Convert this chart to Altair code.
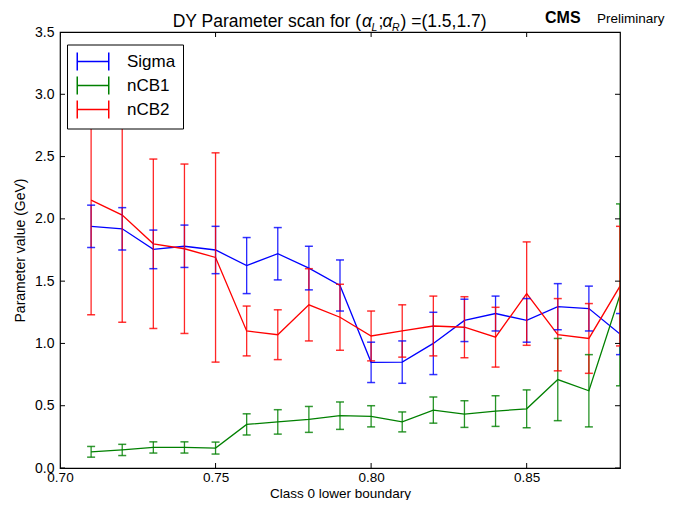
import altair as alt
import pandas as pd

# ---------------- data ----------------
x_vals = [0.71, 0.72, 0.73, 0.74, 0.75, 0.76, 0.77, 0.78, 0.79,
          0.80, 0.81, 0.82, 0.83, 0.84, 0.85, 0.86, 0.87, 0.88]

sigma = [1.94, 1.92, 1.755, 1.78, 1.75, 1.625, 1.72, 1.605, 1.465,
         0.848, 0.85, 1.00, 1.185, 1.24, 1.185, 1.295, 1.28, 1.075]
sigma_err = [0.17, 0.17, 0.155, 0.17, 0.19, 0.225, 0.21, 0.175, 0.205,
             0.162, 0.17, 0.25, 0.17, 0.14, 0.175, 0.185, 0.18, 0.165]

ncb1 = [0.13, 0.145, 0.165, 0.165, 0.16, 0.35, 0.37, 0.39, 0.42,
        0.415, 0.37, 0.465, 0.433, 0.457, 0.475, 0.71, 0.62, 1.39]
ncb1_err = [0.043, 0.045, 0.045, 0.045, 0.048, 0.085, 0.098, 0.104, 0.11,
            0.085, 0.08, 0.105, 0.107, 0.123, 0.152, 0.33, 0.29, 0.73]

ncb2 = [2.15, 2.03, 1.80, 1.76, 1.69, 1.10, 1.07, 1.31, 1.21,
        1.06, 1.10, 1.14, 1.13, 1.05, 1.40, 1.07, 1.04, 1.46]
ncb2_err = [0.92, 0.86, 0.68, 0.68, 0.84, 0.20, 0.20, 0.29, 0.265,
            0.20, 0.21, 0.24, 0.245, 0.24, 0.415, 0.29, 0.28, 0.48]

series_names = ["Sigma", "nCB1", "nCB2"]
series_colors = ["#0000ff", "#008000", "#ff0000"]

x_ticks = [0.70, 0.75, 0.80, 0.85]
y_ticks = [0.0, 0.5, 1.0, 1.5, 2.0, 2.5, 3.0, 3.5]
x_domain = [0.70, 0.88]
y_domain = [0.0, 3.5]

title_main = "DY Parameter scan for ("
title_alpha = "\u03b1"
title_sub_l = "L"
title_sep = ";"
title_sub_r = "R"
title_tail = ") =(1.5,1.7)"
cms_text = "CMS"
prelim_text = "Preliminary"
x_title = "Class 0 lower boundary"
y_title = "Parameter value (GeV)"

# ---------------- table ----------------
rows = []
for name, vals, errs in zip(series_names, [sigma, ncb1, ncb2],
                            [sigma_err, ncb1_err, ncb2_err]):
    for xv, v, e in zip(x_vals, vals, errs):
        rows.append({"series": name, "x": xv, "val": v,
                     "lo": v - e, "hi": v + e})
df = pd.DataFrame(rows)

W, H = 560, 436
FONT = "Liberation Sans"

xscale = alt.Scale(domain=x_domain, nice=False, zero=False)
yscale = alt.Scale(domain=y_domain, nice=False, zero=False)

xaxis = alt.Axis(values=x_ticks, format=".2f", title=x_title,
                 labelFlush=False, labelPadding=2, labelFontSize=13.5,
                 titleY=29, titleBaseline="alphabetic", titleFontSize=13.5)
yaxis = alt.Axis(values=y_ticks, format=".1f", title=y_title,
                 labelFlush=False, labelPadding=6, titleX=-40,
                 titleBaseline="middle")

# errorbar-like legend glyph, shifted right inside its symbol box
PATH = "M-0.75,0L2.75,0M-0.75,-1L-0.75,1M2.75,-1L2.75,1"
legend = alt.Legend(title=None, orient="none", legendX=7, legendY=12.5,
                    padding=7, fillColor="white", strokeColor="black",
                    cornerRadius=0, symbolType=PATH, symbolSize=324,
                    symbolStrokeWidth=1.5, symbolFillColor="transparent",
                    symbolOpacity=1, labelFont=FONT, labelFontSize=17,
                    labelColor="black", labelOffset=33, rowPadding=0)

color = alt.Color("series:N", sort=series_names,
                  scale=alt.Scale(domain=series_names, range=series_colors),
                  legend=legend)

base = alt.Chart(df)

lines = base.mark_line(strokeWidth=1.3, clip=True).encode(
    x=alt.X("x:Q", scale=xscale, axis=xaxis),
    y=alt.Y("val:Q", scale=yscale, axis=yaxis),
    color=color,
)

bars = base.mark_rule(strokeWidth=1.3, opacity=0.85, clip=True).encode(
    x=alt.X("x:Q", scale=xscale, axis=xaxis),
    y=alt.Y("lo:Q", scale=yscale, axis=yaxis),
    y2="hi:Q",
    color=color,
)

caps_lo = base.mark_tick(orient="horizontal", size=8, thickness=1.5,
                         opacity=0.8, clip=True).encode(
    x=alt.X("x:Q", scale=xscale, axis=xaxis),
    y=alt.Y("lo:Q", scale=yscale, axis=yaxis),
    color=color,
)
caps_hi = base.mark_tick(orient="horizontal", size=8, thickness=1.5,
                         opacity=0.8, clip=True).encode(
    x=alt.X("x:Q", scale=xscale, axis=xaxis),
    y=alt.Y("hi:Q", scale=yscale, axis=yaxis),
    color=color,
)

# inward ticks on all four sides (matplotlib classic style)
ydf = pd.DataFrame({"v": y_ticks})
xdf = pd.DataFrame({"v": x_ticks})
tick_kw = dict(size=10, thickness=1, color="black", opacity=1, clip=True)
yt_left = alt.Chart(ydf).mark_tick(orient="horizontal", **tick_kw).encode(
    y=alt.Y("v:Q", scale=yscale, axis=yaxis), x=alt.value(0))
yt_right = alt.Chart(ydf).mark_tick(orient="horizontal", **tick_kw).encode(
    y=alt.Y("v:Q", scale=yscale, axis=yaxis), x=alt.value(W))
xt_bottom = alt.Chart(xdf).mark_tick(orient="vertical", **tick_kw).encode(
    x=alt.X("v:Q", scale=xscale, axis=xaxis), y=alt.value(H))
xt_top = alt.Chart(xdf).mark_tick(orient="vertical", **tick_kw).encode(
    x=alt.X("v:Q", scale=xscale, axis=xaxis), y=alt.value(0))


def label(text, xpos, ypos, size, align="left", weight="normal",
          style="normal"):
    return alt.Chart(pd.DataFrame({"t": [text]})).mark_text(
        font=FONT, fontSize=size, align=align, baseline="alphabetic",
        fontWeight=weight, fontStyle=style, color="black",
    ).encode(text="t:N", x=alt.value(xpos), y=alt.value(ypos))


TS = 17.5
SS = 10.5
TY = -5
title_layers = [
    label(title_main, 301, TY, TS, align="right"),
    label(title_alpha, 302, TY, TS, style="italic"),
    label(title_sub_l, 311.5, TY + 3.5, SS, style="italic"),
    label(title_sep, 318.5, TY, TS),
    label(title_alpha, 322.5, TY, TS, style="italic"),
    label(title_sub_r, 332, TY + 3.5, SS, style="italic"),
    label(title_tail, 340.5, TY, TS),
    label(cms_text, 485, -9, 16, weight="bold"),
    label(prelim_text, 537, -9, 13.5),
]

chart = alt.layer(
    lines, bars, caps_lo, caps_hi,
    yt_left, yt_right, xt_bottom, xt_top,
    *title_layers,
).properties(
    width=W, height=H,
    autosize=alt.AutoSizeParams(type="none"),
    padding={"left": 52, "top": 24, "right": 53, "bottom": 32},
).configure_view(
    stroke="black", strokeWidth=1.2,
).configure_axis(
    domain=False, ticks=False, grid=False,
    labelFont=FONT, labelFontSize=14, labelColor="black",
    titleFont=FONT, titleFontSize=14, titleFontWeight="normal",
    titleColor="black",
)

chart.save("out.html", embed_options={"renderer": "svg", "actions": False})
